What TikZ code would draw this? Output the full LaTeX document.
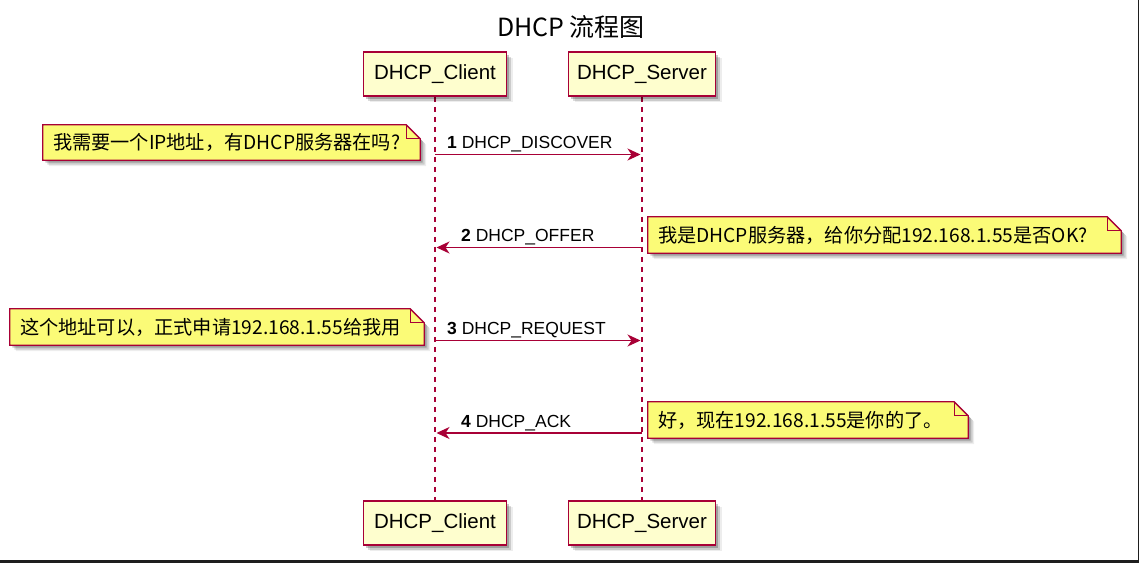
\documentclass[tikz,border=0pt]{standalone}
\usepackage{fontspec}
\setmainfont{Liberation Sans}
\newfontfamily\cjk{Noto Sans CJK SC}
\usetikzlibrary{arrows.meta,shadows}
\definecolor{pumlred}{HTML}{A80036}
\definecolor{partfill}{HTML}{FEFECE}
\definecolor{notefill}{HTML}{FBFB77}
\definecolor{framedark}{HTML}{1E1E1E}
\pgfdeclarelayer{back}
\pgfdeclarelayer{bg}
\pgfsetlayers{back,bg,main}
\begin{document}
\begin{tikzpicture}[x=1pt,y=-1pt,
  softshadow/.style={drop shadow={shadow xshift=2.5pt,shadow yshift=-2.5pt,opacity=.22,fill=black},
                     drop shadow={shadow xshift=4.5pt,shadow yshift=-4.5pt,opacity=.14,fill=black},
                     drop shadow={shadow xshift=6pt,shadow yshift=-6pt,opacity=.07,fill=black}},
  part/.style={draw=pumlred,fill=partfill,line width=1.5pt,minimum height=44pt,inner sep=0pt,
               font=\fontsize{20.5}{24}\selectfont,softshadow},
  lifeline/.style={draw=pumlred,line width=1.1pt,dash pattern=on 5pt off 5pt},
  msg/.style={draw=pumlred,line width=1.2pt,shorten >=1.5pt,
              -{Stealth[length=13pt,width=12pt,inset=4pt]}},
  lbl/.style={font=\fontsize{17.5}{21}\selectfont,inner sep=0pt,anchor=base west},
  note/.style={inner xsep=10pt,inner ysep=0pt,align=left,
               font=\cjk\fontsize{19.2}{22}\selectfont},
  noteshape/.style={draw=pumlred,fill=notefill,line width=1.3pt,line join=miter,softshadow},
  notefold/.style={draw=pumlred,line width=1.3pt},
  titlestyle/.style={font=\cjk\fontsize{25}{29}\selectfont,inner sep=0pt}
]
\useasboundingbox (0,0) rectangle (1139,563);
\begin{pgfonlayer}{back}
\fill[white] (0,0) rectangle (1139,563);
\fill[framedark] (0,559.5) rectangle (1139,563);
\fill[framedark] (1137.5,0) rectangle (1139,563);
\end{pgfonlayer}

\node[titlestyle] (title) at (571,27) {DHCP 流程图};

% participants
\node[part,minimum width=143pt] (c1) at (435,74) {DHCP\_Client};
\node[part,minimum width=147pt] (s1) at (642,74) {DHCP\_Server};
\node[part,minimum width=143pt] (c2) at (435,523) {DHCP\_Client};
\node[part,minimum width=147pt] (s2) at (642,523) {DHCP\_Server};

% lifelines
\begin{pgfonlayer}{bg}
\draw[lifeline] (c1.south) -- (c2.north);
\draw[lifeline] (s1.south) -- (s2.north);
\end{pgfonlayer}

% message anchor points on lifelines
\coordinate (cA) at (c1 |- 0,154.5);
\coordinate (sA) at (s1 |- 0,154.5);
\coordinate (cB) at (c1 |- 0,247.5);
\coordinate (sB) at (s1 |- 0,247.5);
\coordinate (cC) at (c1 |- 0,340.5);
\coordinate (sC) at (s1 |- 0,340.5);
\coordinate (cD) at (c1 |- 0,433);
\coordinate (sD) at (s1 |- 0,433);

\draw[msg] (cA) -- (sA);
\draw[msg] (sB) -- (cB);
\draw[msg] (cC) -- (sC);
\draw[msg] (sD) -- (cD);

\node[lbl] (l1) at (447,148.5) {\textbf{1} DHCP\_DISCOVER};
\node[lbl] (l2) at (461,241.5) {\textbf{2} DHCP\_OFFER};
\node[lbl] (l3) at (447,334.5) {\textbf{3} DHCP\_REQUEST};
\node[lbl] (l4) at (461,427) {\textbf{4} DHCP\_ACK};

% notes
\node[note,text width=357pt,minimum height=35pt] (n1) at (231.5,142.5) {我需要一个IP地址，有DHCP服务器在吗?};
\node[note,text width=453pt,minimum height=36pt] (n2) at (884.5,235) {我是DHCP服务器，给你分配192.168.1.55是否OK?};
\node[note,text width=394pt,minimum height=36pt] (n3) at (217,327) {这个地址可以，正式申请192.168.1.55给我用};
\node[note,text width=300pt,minimum height=36pt] (n4) at (808,420) {好，现在192.168.1.55是你的了。};

\begin{pgfonlayer}{bg}
\foreach \n in {n1,n2,n3,n4}{
  \path[noteshape] (\n.north west) -- ([xshift=-14pt]\n.north east) -- ([yshift=-14pt]\n.north east)
    -- (\n.south east) -- (\n.south west) -- cycle;
  \draw[notefold] ([xshift=-14pt]\n.north east) -- ([xshift=-14pt,yshift=-14pt]\n.north east)
    -- ([yshift=-14pt]\n.north east);
}
\end{pgfonlayer}
\end{tikzpicture}
\end{document}
